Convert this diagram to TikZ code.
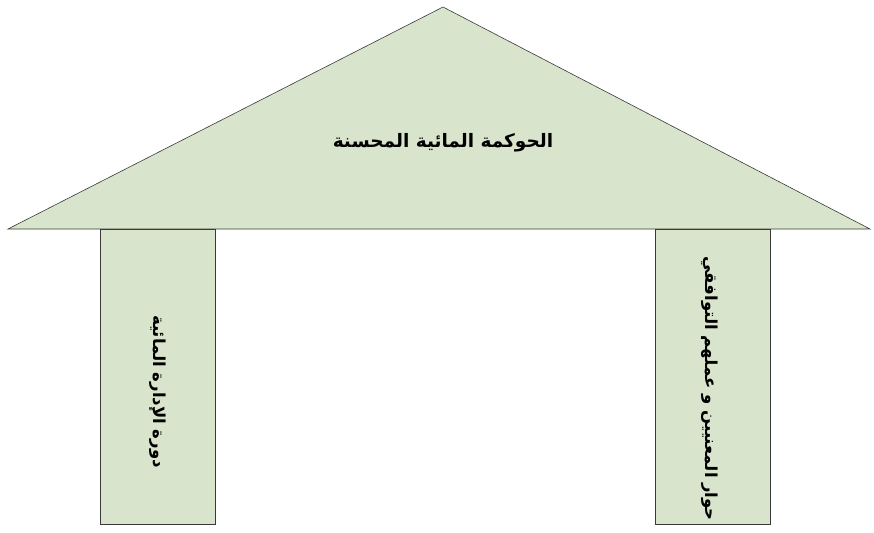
\documentclass[tikz,border=0pt]{standalone}
\usepackage{fontspec}
\newfontfamily\arabicfont[Script=Arabic]{DejaVu Sans}
\TeXXeTstate=1
\usetikzlibrary{positioning}
\definecolor{roofgreen}{HTML}{D8E4CB}
\definecolor{edge}{HTML}{3A3A3A}

\begin{document}
\begin{tikzpicture}[x=1pt, y=-1pt,
  every node/.style={font=\arabicfont\bfseries\fontsize{16.5}{18}\selectfont},
  pillar/.style={draw=edge, fill=roofgreen, line width=0.6pt,
                 minimum width=115pt, minimum height=295pt, inner sep=0pt},
  roof/.style={draw=edge, fill=roofgreen, line width=0.6pt},
  sidetext/.style={rotate=270, inner sep=0pt}
]
  \useasboundingbox (0,0) rectangle (874,532);

  % roof
  \coordinate (apex) at (443,7);
  \coordinate (eaveL) at (8,229);
  \coordinate (eaveR) at (870,229);
  \draw[roof] (apex) -- (eaveR) -- (eaveL) -- cycle;
  \node[font=\arabicfont\bfseries\fontsize{18.5}{20}\selectfont] (title) at (443,143)
    {\beginR الحوكمة المائية المحسنة\endR};

  % pillars
  \node[pillar] (left) at (157.5,376.5) {};
  \node[pillar] (right) at (712.5,376.5) {};
  \node[sidetext] (lefttext) at ([shift={(0pt,-15pt)}]left.center)
    {\beginR دورة الإدارة المائية\endR};
  \node[sidetext] (righttext) at ([shift={(-3pt,-12pt)}]right.center)
    {\beginR حوار المعنيين و عملهم التوافقي\endR};

\end{tikzpicture}
\end{document}
